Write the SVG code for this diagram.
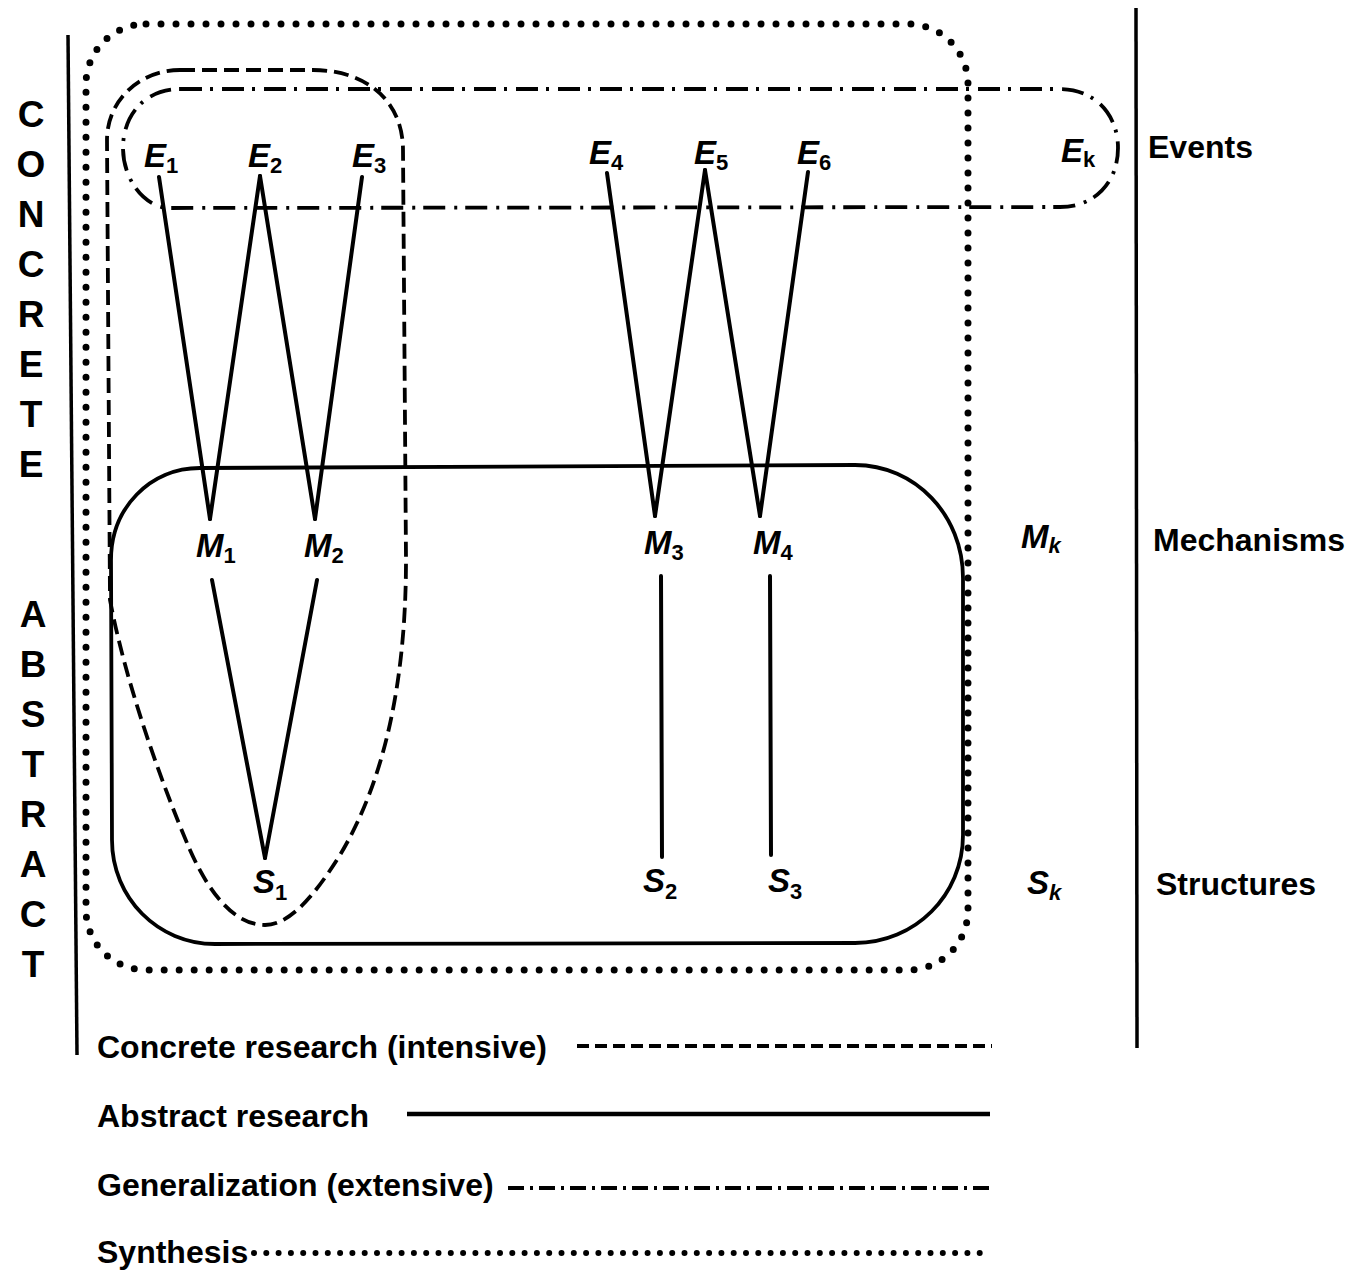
<svg xmlns="http://www.w3.org/2000/svg" width="1352" height="1276" viewBox="0 0 1352 1276">
<style>
  text { font-family: "Liberation Sans", Arial, sans-serif; fill: #000; }
  .vert { font-size: 37px; font-weight: bold; text-anchor: middle; }
  .side { font-size: 32px; font-weight: bold; }
  .leg { font-size: 32px; font-weight: bold; }
  .lbl { font-size: 33px; font-weight: bold; font-style: italic; }
  .sub { font-size: 22px; font-weight: bold; font-style: normal; }
  .subi { font-size: 22px; font-weight: bold; font-style: italic; }
  .axis { stroke: #000; stroke-width: 3.5; fill: none; }
  .conn { stroke: #000; stroke-width: 4; fill: none; stroke-linecap: round; }
  .dotted { stroke: #000; stroke-width: 7; fill: none; stroke-dasharray: 0 15; stroke-linecap: round; }
  .dashed { stroke: #000; stroke-width: 3.8; fill: none; stroke-dasharray: 15 7; }
  .dashdot { stroke: #000; stroke-width: 3.8; fill: none; stroke-dasharray: 22 8 3 9; }
  .solid { stroke: #000; stroke-width: 3.8; fill: none; }
</style>

<g id="axes">
  <line class="axis" x1="68" y1="35" x2="77" y2="1055"/>
  <line class="axis" x1="1136" y1="8" x2="1137" y2="1048"/>
</g>

<g id="concrete-label">
  <text class="vert" x="31" y="127">C</text>
  <text class="vert" x="31" y="177">O</text>
  <text class="vert" x="31" y="227">N</text>
  <text class="vert" x="31" y="277">C</text>
  <text class="vert" x="31" y="327">R</text>
  <text class="vert" x="31" y="377">E</text>
  <text class="vert" x="31" y="427">T</text>
  <text class="vert" x="31" y="477">E</text>
</g>
<g id="abstract-label">
  <text class="vert" x="33" y="627">A</text>
  <text class="vert" x="33" y="677">B</text>
  <text class="vert" x="33" y="727">S</text>
  <text class="vert" x="33" y="777">T</text>
  <text class="vert" x="33" y="827">R</text>
  <text class="vert" x="33" y="877">A</text>
  <text class="vert" x="33" y="927">C</text>
  <text class="vert" x="33" y="977">T</text>
</g>

<g id="regions">
  <rect id="synthesis-region" class="dotted" x="86" y="24" width="882" height="946" rx="60" ry="60"/>
  <path id="abstract-region" class="solid" d="M 200,468 L 855,465 C 915,465 963,515 963,578 L 963,835 C 963,895 915,943 855,943 L 215,944 C 158,944 112,898 112,840 L 111,560 C 111,508 150,468 200,468 Z"/>
  <path id="concrete-region" class="dashed" d="M 180,70 L 313,70 C 365,70 403,100 403,150 L 406,560 C 406,680 385,780 340,855 C 315,895 290,925 265,925 C 235,925 210,895 190,850 C 160,780 125,680 110,600 L 107,140 C 107,100 140,70 180,70 Z"/>
  <path id="generalization-region" class="dashdot" d="M 180,89 L 1060,89 C 1095,89 1118,115 1118,148 C 1118,182 1095,207 1060,207 L 170,208 C 145,208 123,180 123,148 C 123,115 145,89 180,89 Z"/>
</g>

<g id="connectors">
  <line class="conn" x1="159" y1="177" x2="210" y2="519"/>
  <line class="conn" x1="260" y1="176" x2="210" y2="519"/>
  <line class="conn" x1="260" y1="176" x2="315" y2="519"/>
  <line class="conn" x1="362" y1="177" x2="315" y2="519"/>
  <line class="conn" x1="212" y1="580" x2="265" y2="858"/>
  <line class="conn" x1="317" y1="580" x2="265" y2="858"/>
  <line class="conn" x1="607" y1="173" x2="655" y2="516"/>
  <line class="conn" x1="705" y1="170" x2="655" y2="516"/>
  <line class="conn" x1="705" y1="170" x2="760" y2="516"/>
  <line class="conn" x1="808" y1="172" x2="760" y2="516"/>
  <line class="conn" x1="661" y1="576" x2="662" y2="857"/>
  <line class="conn" x1="770" y1="576" x2="771" y2="855"/>
</g>

<g id="E1"><text class="lbl" x="144" y="167">E<tspan class="sub" dy="6">1</tspan></text></g>
<g id="E2"><text class="lbl" x="248" y="167">E<tspan class="sub" dy="6">2</tspan></text></g>
<g id="E3"><text class="lbl" x="352" y="167">E<tspan class="sub" dy="6">3</tspan></text></g>
<g id="E4"><text class="lbl" x="589" y="164">E<tspan class="sub" dy="6">4</tspan></text></g>
<g id="E5"><text class="lbl" x="694" y="164">E<tspan class="sub" dy="6">5</tspan></text></g>
<g id="E6"><text class="lbl" x="797" y="164">E<tspan class="sub" dy="6">6</tspan></text></g>
<g id="Ek"><text class="lbl" x="1061" y="162">E<tspan class="sub" dy="5">k</tspan></text></g>

<g id="M1"><text class="lbl" x="196" y="557">M<tspan class="sub" dy="6">1</tspan></text></g>
<g id="M2"><text class="lbl" x="304" y="557">M<tspan class="sub" dy="6">2</tspan></text></g>
<g id="M3"><text class="lbl" x="644" y="554">M<tspan class="sub" dy="6">3</tspan></text></g>
<g id="M4"><text class="lbl" x="753" y="554">M<tspan class="sub" dy="6">4</tspan></text></g>
<g id="Mk"><text class="lbl" x="1021" y="548">M<tspan class="subi" dy="5">k</tspan></text></g>

<g id="S1"><text class="lbl" x="253" y="893">S<tspan class="sub" dy="7">1</tspan></text></g>
<g id="S2"><text class="lbl" x="643" y="892">S<tspan class="sub" dy="7">2</tspan></text></g>
<g id="S3"><text class="lbl" x="768" y="892">S<tspan class="sub" dy="7">3</tspan></text></g>
<g id="Sk"><text class="lbl" x="1027" y="894">S<tspan class="subi" dy="6">k</tspan></text></g>

<g id="levels">
  <text class="side" x="1148" y="158">Events</text>
  <text class="side" x="1153" y="551">Mechanisms</text>
  <text class="side" x="1156" y="895">Structures</text>
</g>

<g id="legend">
  <text class="leg" x="97" y="1058">Concrete research (intensive)</text>
  <line class="dashed" x1="577" y1="1046" x2="992" y2="1046" style="stroke-dasharray:12 6"/>
  <text class="leg" x="97" y="1127">Abstract research</text>
  <line class="solid" x1="407" y1="1114" x2="990" y2="1114" style="stroke-width:4.5"/>
  <text class="leg" x="97" y="1196">Generalization (extensive)</text>
  <line class="dashdot" x1="508" y1="1188" x2="990" y2="1188" style="stroke-dasharray:16 6 3 6"/>
  <text class="leg" x="97" y="1263">Synthesis</text>
  <line class="dotted" x1="254" y1="1253" x2="992" y2="1253" style="stroke-width:6;stroke-dasharray:0 12.3"/>
</g>
</svg>
